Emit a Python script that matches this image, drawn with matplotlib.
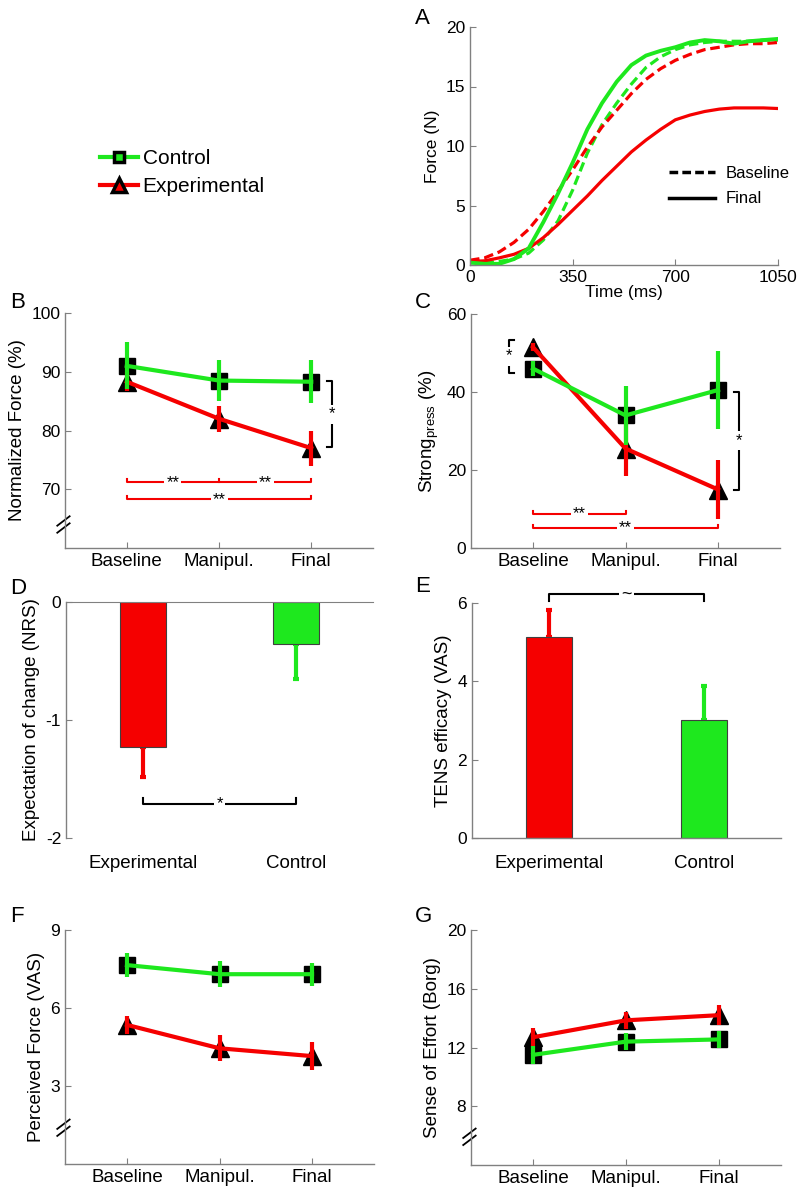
import numpy as np
import matplotlib
matplotlib.use('Agg')
from matplotlib import pyplot as plt
from matplotlib.lines import Line2D

plt.rcParams['font.family'] = ['Liberation Sans', 'DejaVu Sans']
plt.rcParams['axes.unicode_minus'] = False

GREEN = '#1ee81e'
RED = '#f50000'
GREY = '#808080'

# Panel A: force traces (time in ms)
time_ms = [0, 50, 100, 150, 200, 250, 300, 350, 400, 450, 500, 550,
           600, 650, 700, 750, 800, 850, 900, 950, 1000, 1050]
ctrl_final = [0.2, 0.1, 0.1, 0.5, 1.4, 3.6, 6.0, 8.6, 11.4, 13.6, 15.4, 16.8,
              17.6, 18.0, 18.3, 18.7, 18.9, 18.8, 18.6, 18.8, 18.9, 19.0]
ctrl_base = [0.2, 0.2, 0.3, 0.5, 1.0, 2.1, 3.7, 6.3, 9.4, 11.8, 13.6, 15.2,
             16.6, 17.5, 18.1, 18.5, 18.7, 18.8, 18.8, 18.8, 18.9, 18.9]
exp_base = [0.4, 0.6, 1.1, 1.9, 3.0, 4.5, 6.2, 8.0, 9.9, 11.6, 13.0, 14.4,
            15.6, 16.5, 17.2, 17.7, 18.1, 18.3, 18.5, 18.6, 18.6, 18.7]
exp_final = [0.3, 0.35, 0.6, 0.9, 1.4, 2.3, 3.4, 4.6, 5.8, 7.1, 8.3, 9.5,
             10.5, 11.4, 12.2, 12.6, 12.9, 13.1, 13.2, 13.2, 13.2, 13.15]

sessions = ['Baseline', 'Manipul.', 'Final']
groups = ['Experimental', 'Control']

# Panel B: normalized force (%)
force_ctrl = [91.0, 88.5, 88.3]
force_ctrl_err = [4.0, 3.5, 3.7]
force_exp = [88.3, 82.0, 77.0]
force_exp_err = [1.6, 2.2, 3.0]

# Panel C: strong presses (%)
strong_ctrl = [46.0, 34.0, 40.5]
strong_ctrl_err = [2.0, 7.5, 10.0]
strong_exp = [51.5, 25.5, 15.0]
strong_exp_err = [1.0, 7.0, 7.5]

# Panel D: expectation of change (NRS)
expect = [-1.23, -0.36]
expect_err = [0.25, 0.29]

# Panel E: TENS efficacy (VAS)
efficacy = [5.12, 3.02]
efficacy_err = [0.71, 0.86]

# Panel F: perceived force (VAS)
perc_ctrl = [7.65, 7.3, 7.3]
perc_ctrl_err = [0.45, 0.5, 0.45]
perc_exp = [5.35, 4.45, 4.15]
perc_exp_err = [0.35, 0.5, 0.55]

# Panel G: sense of effort (Borg)
effort_ctrl = [11.5, 12.4, 12.55]
effort_ctrl_err = [0.6, 0.6, 0.6]
effort_exp = [12.7, 13.85, 14.2]
effort_exp_err = [0.6, 0.6, 0.7]

W, H = 800, 1192
fig = plt.figure(figsize=(8, 11.92), dpi=100)


def add_ax(left, right, top, bottom):
    return fig.add_axes([left / W, 1 - bottom / H, (right - left) / W, (bottom - top) / H])


def style(ax):
    for s in ['top', 'right']:
        ax.spines[s].set_visible(False)
    for s in ['left', 'bottom']:
        ax.spines[s].set_color(GREY)
        ax.spines[s].set_linewidth(1)
    ax.tick_params(direction='in', length=4, color=GREY, labelsize=12.5)
    ax.tick_params(axis='x', labelsize=13.5)


def axis_break(ax, yval):
    for dy in (-0.015, 0.015):
        ax.plot([-0.025, 0.015], [yval + dy - 0.02, yval + dy + 0.02], color='black',
                lw=1.3, transform=ax.transAxes, clip_on=False)


def line_panel(ax, ctrl, ctrl_err, exp, exp_err):
    x = np.arange(1, 4)
    ax.plot(x, exp, ls='none', marker='^', ms=13, color='black', zorder=2)
    ax.plot(x, ctrl, ls='none', marker='s', ms=11, color='black', zorder=2)
    ax.errorbar(x, exp, yerr=exp_err, color=RED, lw=3, elinewidth=3, capsize=0, zorder=3)
    ax.errorbar(x, ctrl, yerr=ctrl_err, color=GREEN, lw=3, elinewidth=3, capsize=0, zorder=4)
    ax.set_xlim(0.33, 3.67)
    ax.set_xticks(x)
    ax.set_xticklabels(sessions)
    style(ax)


def hbracket(ax, x0, x1, y, h, color, mid=None):
    ax.plot([x0, x0, x1, x1], [y + h, y, y, y + h], color=color, lw=1.5, clip_on=False)
    if mid is not None:
        ax.plot([mid, mid], [y, y + h], color=color, lw=1.5)


def star(ax, x, y, s, fs=12):
    ax.text(x, y, s, ha='center', va='center', fontsize=fs, color='black',
            bbox=dict(facecolor='white', edgecolor='none', pad=1.5), zorder=6, clip_on=False)


# ---- A ----
axA = add_ax(470, 778, 27, 265)
axA.plot(time_ms, ctrl_base, color=GREEN, lw=2.3, ls=(0, (3, 1.5)))
axA.plot(time_ms, exp_base, color=RED, lw=2.3, ls=(0, (3, 1.5)))
axA.plot(time_ms, exp_final, color=RED, lw=2.3)
axA.plot(time_ms, ctrl_final, color=GREEN, lw=2.8)
axA.set_xlim(0, 1050)
axA.set_ylim(0, 20)
axA.set_xticks([0, 350, 700, 1050])
axA.set_yticks([0, 5, 10, 15, 20])
style(axA)
axA.tick_params(axis='x', labelsize=12.5)
axA.set_xlabel('Time (ms)', fontsize=12.5, labelpad=0)
axA.set_ylabel('Force (N)', fontsize=12.5, labelpad=4)
axA.legend([Line2D([], [], color='black', lw=2.5, ls=(0, (2.5, 1.2))),
            Line2D([], [], color='black', lw=2.5)], ['Baseline', 'Final'],
           loc='upper left', bbox_to_anchor=(0.645, 0.418), frameon=False,
           fontsize=12, handlelength=2.8, handletextpad=0.6, labelspacing=0.65,
           borderaxespad=0, borderpad=0)

# ---- B ----
axB = add_ax(65, 373, 313, 548)
line_panel(axB, force_ctrl, force_ctrl_err, force_exp, force_exp_err)
axB.set_ylim(60, 100)
axB.set_yticks([70, 80, 90, 100])
axB.set_ylabel('Normalized Force (%)', fontsize=13.5)
axis_break(axB, 0.1)
hbracket(axB, 1, 3, 71.2, 0.6, RED, mid=2)
star(axB, 1.5, 71.2, '**')
star(axB, 2.5, 71.2, '**')
hbracket(axB, 1, 3, 68.3, 0.6, RED)
star(axB, 2, 68.3, '**')
axB.plot([3.17, 3.23, 3.23, 3.17], [88.4, 88.4, 77.2, 77.2], color='black', lw=1.5, clip_on=False)
star(axB, 3.23, 82.8, '*')

# ---- C ----
axC = add_ax(471, 780, 314, 548)
line_panel(axC, strong_ctrl, strong_ctrl_err, strong_exp, strong_exp_err)
axC.set_ylim(0, 60)
axC.set_yticks([0, 20, 40, 60])
axC.set_ylabel('Strong$_{\\mathregular{press}}$ (%)', fontsize=13.5)
hbracket(axC, 1, 2, 8.7, 0.8, RED)
star(axC, 1.5, 8.7, '**')
hbracket(axC, 1, 3, 5.1, 0.8, RED)
star(axC, 2, 5.1, '**')
axC.plot([3.17, 3.23, 3.23, 3.17], [40.0, 40.0, 15.0, 15.0], color='black', lw=1.5, clip_on=False)
star(axC, 3.23, 27.5, '*')
axC.plot([0.8, 0.74, 0.74, 0.8], [53.3, 53.3, 44.9, 44.9], color='black', lw=1.5, clip_on=False)
star(axC, 0.74, 49.2, '*')

# ---- D ----
axD = add_ax(66, 373, 602, 838)
xb = np.arange(1, 3)
axD.bar(xb, expect, width=0.3, color=[RED, GREEN], edgecolor='#404040', lw=0.8, zorder=2)
axD.errorbar(xb[:1], expect[:1], yerr=[expect_err[:1], [0]], fmt='none', ecolor=RED, lw=3,
             capsize=2, capthick=3, zorder=1)
axD.errorbar(xb[1:], expect[1:], yerr=[expect_err[1:], [0]], fmt='none', ecolor=GREEN,
             lw=3, capsize=2, capthick=3, zorder=1)
axD.set_xlim(0.5, 2.5)
axD.set_ylim(-2, 0)
axD.set_yticks([-2, -1, 0])
axD.set_xticks(xb)
axD.set_xticklabels(groups)
style(axD)
axD.spines['bottom'].set_visible(False)
axD.spines['top'].set_visible(True)
axD.spines['top'].set_color(GREY)
axD.tick_params(axis='x', length=0, pad=12)
axD.set_ylabel('Expectation of change (NRS)', fontsize=13.5)
hbracket(axD, 1, 2, -1.71, 0.05, 'black')
star(axD, 1.5, -1.71, '*')

# ---- E ----
axE = add_ax(472, 781, 603, 838)
axE.bar(xb, efficacy, width=0.3, color=[RED, GREEN], edgecolor='#404040', lw=0.8, zorder=2)
axE.errorbar(xb[:1], efficacy[:1], yerr=[[0], efficacy_err[:1]], fmt='none', ecolor=RED,
             lw=3, capsize=2, capthick=3, zorder=1)
axE.errorbar(xb[1:], efficacy[1:], yerr=[[0], efficacy_err[1:]], fmt='none', ecolor=GREEN,
             lw=3, capsize=2, capthick=3, zorder=1)
axE.set_xlim(0.5, 2.5)
axE.set_ylim(0, 6)
axE.set_yticks([0, 2, 4, 6])
axE.set_xticks(xb)
axE.set_xticklabels(groups)
style(axE)
axE.tick_params(axis='x', length=0, pad=12)
axE.set_ylabel('TENS efficacy (VAS)', fontsize=13.5)
hbracket(axE, 1, 2, 6.23, -0.18, 'black')
star(axE, 1.5, 6.23, '~', fs=13)

# ---- F ----
axF = add_ax(65, 374, 930, 1164)
line_panel(axF, perc_ctrl, perc_ctrl_err, perc_exp, perc_exp_err)
axF.set_ylim(0, 9)
axF.set_yticks([3, 6, 9])
axF.set_ylabel('Perceived Force (VAS)', fontsize=13.5)
axis_break(axF, 0.155)

# ---- G ----
axG = add_ax(471, 781, 930, 1165)
line_panel(axG, effort_ctrl, effort_ctrl_err, effort_exp, effort_exp_err)
axG.set_ylim(4, 20)
axG.set_yticks([8, 12, 16, 20])
axG.set_ylabel('Sense of Effort (Borg)', fontsize=13.5)
axis_break(axG, 0.12)

# legend of the groups
fig.legend([Line2D([], [], color=GREEN, lw=3, marker='s', ms=7, mfc=GREEN, mec='black', mew=2.5),
            Line2D([], [], color=RED, lw=3, marker='^', ms=10, mfc=RED, mec='black', mew=2.5)],
           ['Control', 'Experimental'], loc='upper left',
           bbox_to_anchor=(100 / W, 1 - 149 / H), frameon=False, fontsize=15,
           handlelength=1.8, handletextpad=0.25, labelspacing=0.45,
           borderpad=0, borderaxespad=0)

for lab, x, y in [('A', 415, 18), ('B', 10, 303), ('C', 415, 303), ('D', 10, 588),
                  ('E', 415, 586), ('F', 10, 917), ('G', 415, 917)]:
    fig.text(x / W, 1 - y / H, lab, ha='left', va='center', fontsize=16)

fig.savefig('out.png', dpi=100)
